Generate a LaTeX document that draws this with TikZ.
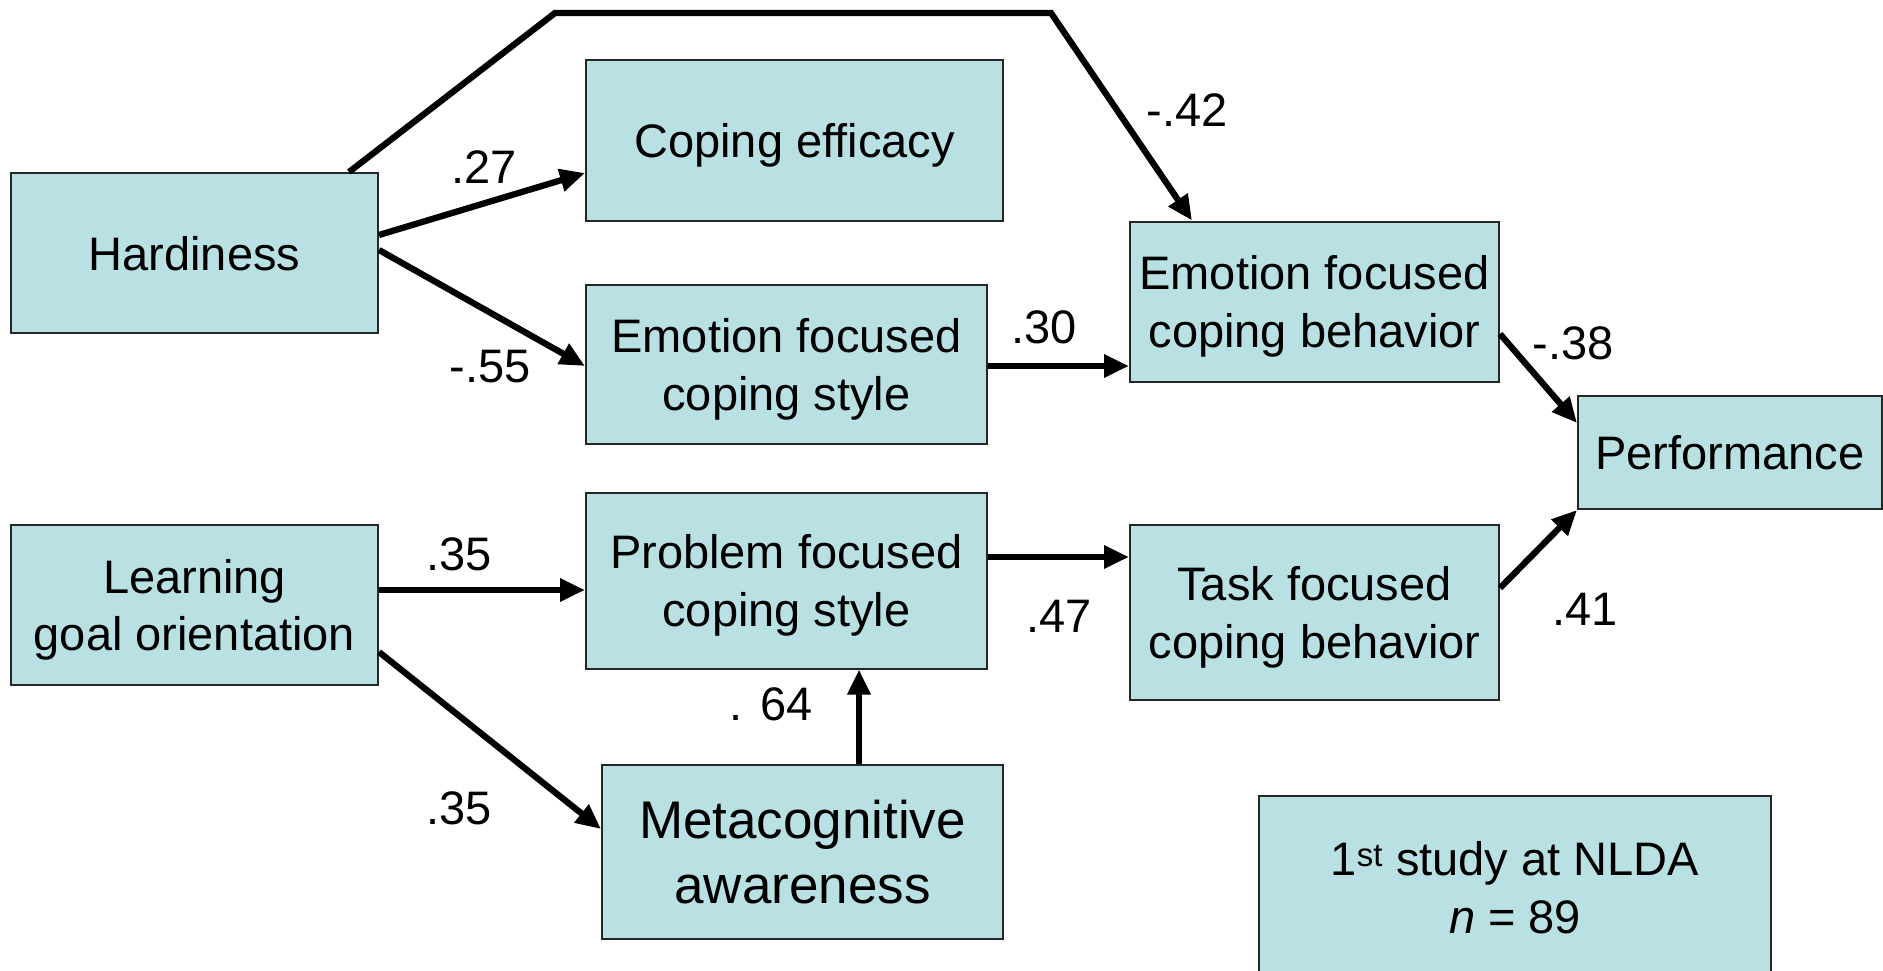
\documentclass[tikz,border=0pt]{standalone}
\usepackage{fontspec}
\setmainfont{Liberation Sans}
\usetikzlibrary{arrows.meta}
\definecolor{boxfill}{RGB}{185,224,227}
% centred lines stacked in a box whose baseline is the last line
\newcommand\stacklines[1]{\vbox{\halign{\hfil##\hfil\cr#1\crcr}}}
\begin{document}
\begin{tikzpicture}[x=1pt,y=-1pt,
  varbox/.style={draw=black!85,line width=2pt,fill=boxfill,inner sep=0pt,
    text depth=0pt,font=\fontsize{47}{57.5}\selectfont},
  path/.style={line width=6.3pt,-{Triangle[length=25pt,width=22pt]}},
  coef/.style={font=\fontsize{47}{57}\selectfont,inner sep=0pt}]
\useasboundingbox (0,0) rectangle (1883,971);

% variables
\node[varbox,minimum width=367pt,minimum height=160pt] (hard) at (194.5,253) {Hardiness};
\node[varbox,minimum width=367pt,minimum height=160pt] (lgo) at (194.5,605) {\stacklines{Learning\cr goal orientation}};
\node[varbox,minimum width=417pt,minimum height=161pt] (eff) at (794.5,140.5) {Coping efficacy};
\node[varbox,minimum width=401pt,minimum height=159pt] (efs) at (786.5,364.5) {\stacklines{Emotion focused\cr coping style}};
\node[varbox,minimum width=401pt,minimum height=176pt] (pfs) at (786.5,580.5) {\stacklines{Problem focused\cr coping style}};
\node[varbox,minimum width=401pt,minimum height=174pt,font=\fontsize{53}{65}\selectfont] (meta) at (802.5,852) {\stacklines{Metacognitive\cr awareness}};
\node[varbox,minimum width=369pt,minimum height=160pt] (efb) at (1314.5,301.5) {\stacklines{Emotion focused\cr coping behavior}};
\node[varbox,minimum width=369pt,minimum height=175pt] (tfb) at (1314.5,612.5) {\stacklines{Task focused\cr coping behavior}};
\node[varbox,minimum width=304pt,minimum height=113pt] (perf) at (1730,452.5) {Performance};
\node[varbox,minimum width=512pt,minimum height=183pt] (study) at (1515,887.5) {\stacklines{1\textsuperscript{st} study at NLDA\cr \textit{n} = 89}};

% paths
\coordinate (k1) at (555,13);
\coordinate (k2) at (1051,13);
\draw[path] (hard.north -| 349,0) -- (k1) -- (k2) -- (efb.north -| 1192,0);
\draw[path] (hard.east |- 0,235) -- (eff.west |- 0,173);
\draw[path] (hard.east |- 0,250) -- (efs.west |- 0,366);
\draw[path] (efs.east |- 0,366) -- (efb.west |- 0,366);
\draw[path] (efb.east |- 0,334) -- (perf.west |- 0,423);
\draw[path] (tfb.east |- 0,588) -- (perf.south west);
\draw[path] (lgo.east |- 0,590) -- (pfs.west |- 0,590);
\draw[path] (lgo.east |- 0,652) -- (meta.west |- 0,829);
\draw[path] (meta.north -| 859,0) -- (pfs.south -| 859,0);
\draw[path] (pfs.east |- 0,557) -- (tfb.west |- 0,557);

% coefficients
\node[coef] (c1) at (484,167) {.27};
\node[coef] (c2) at (490,367) {-.55};
\node[coef] (c3) at (1187,110) {-.42};
\node[coef] (c4) at (1044,327) {.30};
\node[coef] (c5) at (1573,343) {-.38};
\node[coef] (c6) at (459,554) {.35};
\node[coef] (c7) at (1059,616) {.47};
\node[coef] (c8) at (1585,609) {.41};
\node[coef] (c9) at (771,704) {. 64};
\node[coef] (c10) at (459,808) {.35};
\end{tikzpicture}
\end{document}
